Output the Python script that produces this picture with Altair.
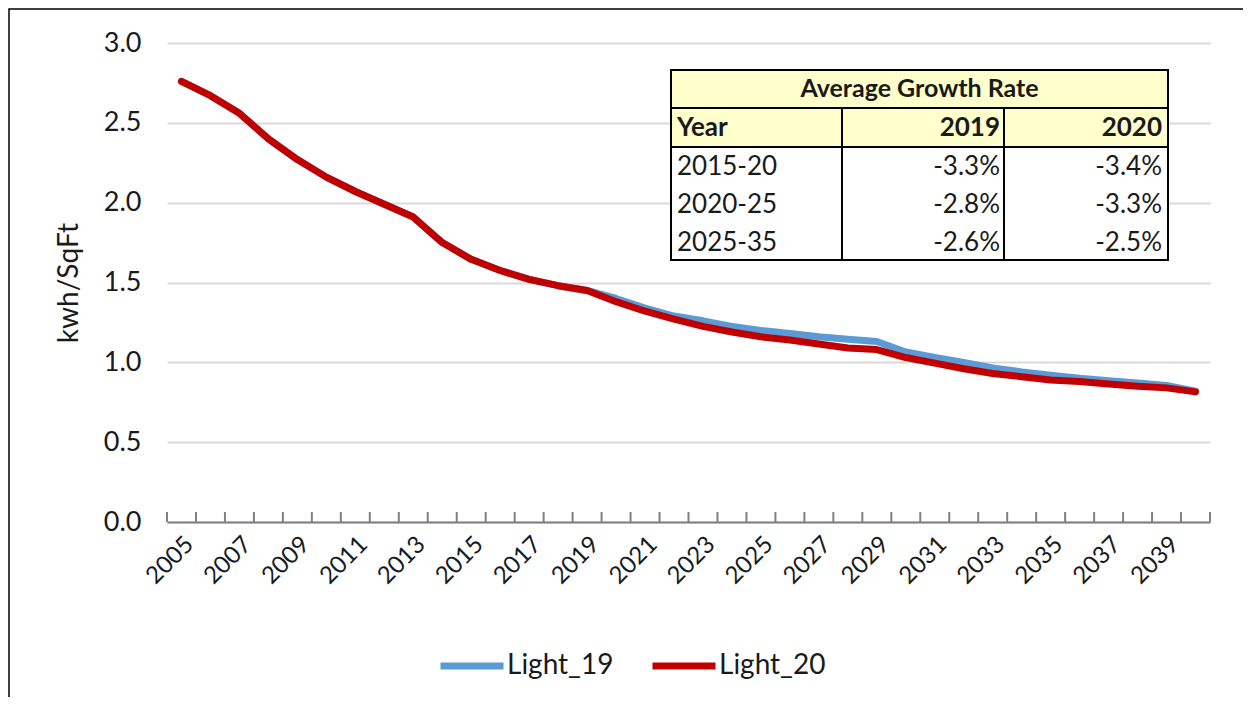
import altair as alt
import pandas as pd

# ---------------- data ----------------
years = list(range(2005, 2041))
light_19 = [2.76, 2.67, 2.56, 2.40, 2.27, 2.16, 2.07, 1.99, 1.91, 1.75,
            1.645, 1.575, 1.52, 1.48, 1.45, 1.40, 1.34, 1.29, 1.26, 1.225,
            1.20, 1.18, 1.16, 1.145, 1.13, 1.065, 1.03, 1.00, 0.965, 0.94,
            0.92, 0.90, 0.885, 0.87, 0.855, 0.82]
light_20 = [2.76, 2.67, 2.56, 2.40, 2.27, 2.16, 2.07, 1.99, 1.91, 1.75,
            1.645, 1.575, 1.52, 1.48, 1.45, 1.38, 1.32, 1.27, 1.225, 1.19,
            1.16, 1.14, 1.115, 1.09, 1.08, 1.03, 0.995, 0.96, 0.93, 0.91,
            0.89, 0.88, 0.865, 0.85, 0.84, 0.815]
series_names = ["Light_19", "Light_20"]
series_colors = ["#5B9BD5", "#C00000"]
y_ticks = [0.0, 0.5, 1.0, 1.5, 2.0, 2.5, 3.0]

table_title = "Average Growth Rate"
table_header = ["Year", "2019", "2020"]
table_periods = ["2015-20", "2020-25", "2025-35"]
growth_2019 = ["-3.3%", "-2.8%", "-2.6%"]
growth_2020 = ["-3.4%", "-3.3%", "-2.5%"]

# ---------------- layout ----------------
W, H = 1043, 479
FONT = "Lato"
TXT = "#1a1a1a"

df = pd.DataFrame({
    "year": years * 2,
    "value": light_19 + light_20,
    "series": [series_names[0]] * len(years) + [series_names[1]] * len(years),
})
df_years = pd.DataFrame({"year": years})
df_last = pd.DataFrame({"year": [years[-1]]})

xscale = alt.Scale(type="band", paddingInner=0, paddingOuter=0)

lines = alt.Chart(df).mark_line(strokeWidth=7, strokeCap="round", strokeJoin="round").encode(
    x=alt.X("year:O", scale=xscale, bandPosition=0.5, title=None,
            axis=alt.Axis(labelAngle=-45, labelFontSize=24, labelColor=TXT, ticks=False,
                          domainColor="#808080", domainWidth=2, grid=False,
                          labelOverlap=False, labelPadding=10,
                          labelExpr="datum.value % 2 == 1 ? datum.label : ''")),
    y=alt.Y("value:Q", scale=alt.Scale(domain=[0, 3], nice=False),
            axis=alt.Axis(values=y_ticks, format=".1f", title="kwh/SqFt",
                          labelFontSize=27, labelColor=TXT, titleFontSize=28,
                          titleColor=TXT, titleFontWeight="normal",
                          grid=True, gridColor="#d9d9d9", gridWidth=2,
                          domain=False, ticks=False, labelPadding=26, titlePadding=20)),
    color=alt.Color("series:N", scale=alt.Scale(domain=series_names, range=series_colors),
                    legend=alt.Legend(title=None, orient="none", legendX=270, legendY=588,
                                      direction="horizontal", labelFontSize=28,
                                      labelColor=TXT, symbolType="stroke",
                                      symbolStrokeWidth=7, symbolSize=3969,
                                      labelOffset=0, columnPadding=24)),
)

ticks = alt.Chart(df_years).mark_rule(color="#808080", strokeWidth=2).encode(
    x=alt.X("year:O", scale=xscale, bandPosition=0, axis=None),
    y=alt.value(H - 10), y2=alt.value(H),
)
tick_end = alt.Chart(df_last).mark_rule(color="#808080", strokeWidth=2).encode(
    x=alt.X("year:O", scale=xscale, bandPosition=1, axis=None),
    y=alt.value(H - 10), y2=alt.value(H),
)

# ---------------- table ----------------
col_edges = [504, 675, 837, 1001]
row_edges = [27, 65, 104, 217]
row_centers = [124, 162, 200]
YELLOW = "#FFFFCC"

rect_rows = [dict(x0=col_edges[0], x1=col_edges[-1], y0=row_edges[0], y1=row_edges[1], fill=YELLOW)]
for i in range(3):
    rect_rows.append(dict(x0=col_edges[i], x1=col_edges[i + 1], y0=row_edges[1], y1=row_edges[2], fill=YELLOW))
    rect_rows.append(dict(x0=col_edges[i], x1=col_edges[i + 1], y0=row_edges[2], y1=row_edges[3], fill="white"))
rects = alt.Chart(pd.DataFrame(rect_rows)).mark_rect(stroke="black", strokeWidth=2).encode(
    x=alt.X("x0:Q", scale=None), x2="x1:Q",
    y=alt.Y("y0:Q", scale=None), y2="y1:Q",
    fill=alt.Fill("fill:N", scale=None),
)

def text_layer(rows, align, weight, size=26):
    return alt.Chart(pd.DataFrame(rows)).mark_text(
        align=align, baseline="middle", fontSize=size, fontWeight=weight, color=TXT, font=FONT
    ).encode(x=alt.X("px:Q", scale=None), y=alt.Y("py:Q", scale=None), text="t:N")

cx = (col_edges[0] + col_edges[-1]) / 2
hy = (row_edges[1] + row_edges[2]) / 2
t_title = text_layer([dict(px=cx, py=(row_edges[0] + row_edges[1]) / 2, t=table_title)], "center", "bold", 25)
t_hleft = text_layer([dict(px=col_edges[0] + 6, py=hy, t=table_header[0])], "left", "bold")
t_hright = text_layer([dict(px=col_edges[2] - 4, py=hy, t=table_header[1]),
                       dict(px=col_edges[3] - 6, py=hy, t=table_header[2])], "right", "bold")
t_bleft = text_layer([dict(px=col_edges[0] + 6, py=row_centers[i], t=table_periods[i]) for i in range(3)],
                     "left", "normal")
t_bright = text_layer([dict(px=col_edges[2] - 4, py=row_centers[i], t=growth_2019[i]) for i in range(3)] +
                      [dict(px=col_edges[3] - 6, py=row_centers[i], t=growth_2020[i]) for i in range(3)],
                      "right", "normal")

frame = alt.Chart(df_last).mark_rect(fill="white", fillOpacity=0, stroke="black", strokeWidth=1.5).encode(
    x=alt.value(-158), x2=alt.value(1077), y=alt.value(-34), y2=alt.value(700),
)

chart = alt.layer(
    frame, lines, ticks, tick_end, rects, t_title, t_hleft, t_hright, t_bleft, t_bright
).resolve_scale(x="independent", y="independent").properties(
    width=W, height=H,
    autosize=alt.AutoSizeParams(type="none"),
    padding={"left": 159, "top": 35, "right": 33, "bottom": 175},
).configure(font=FONT).configure_view(strokeWidth=0)

chart.save("out.html", embed_options={"renderer": "svg", "actions": False})
